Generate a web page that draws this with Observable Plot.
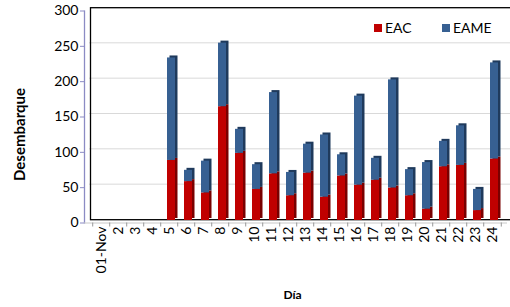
<!DOCTYPE html>
<html>
<head>
<meta charset="utf-8">
<script src="https://cdn.jsdelivr.net/npm/d3@7"></script>
<script src="https://cdn.jsdelivr.net/npm/@observablehq/plot@0.6"></script>
<style>
  html, body { margin: 0; padding: 0; background: #fff; }
  #wrap { position: relative; width: 510px; height: 307px; font-family: Lato, "Open Sans", sans-serif; }
  #legend .item { position: absolute; top: 20px; display: flex; align-items: center; font-size: 14px; color: #000; line-height: 16px; }
  #legend .sw { display: inline-block; width: 8px; height: 8px; margin-right: 3px; }
</style>
</head>
<body>
<div id="wrap"><div id="legend"></div></div>
<script>
const dias = ["01-Nov","2","3","4","5","6","7","8","9","10","11","12","13","14","15","16","17","18","19","20","21","22","23","24"];
const eac  = [0,0,0,0,85,55,39,161,95,44,66,35,67,33,63,50,57,46,35,16,76,78,14,87];
const eame = [0,0,0,0,145,16,45,90,34,35,115,33,41,88,30,126,31,153,37,66,36,56,30,136];
const series = ["EAC","EAME"];
const colors = ["#C00000","#376092"];
const sideColors = ["#7a0000","#1f3a5c"];
const yTicks = [0,50,100,150,200,250,300];
const gridTicks = [50,100,150,200,250];

const data = [];
dias.forEach((d,i) => {
  data.push({dia: d, serie: "EAC", valor: eac[i]});
  data.push({dia: d, serie: "EAME", valor: eame[i]});
});

const W = 510, H = 307, mL = 85, mR = 3;
const step = (W - mL - mR) / dias.length;

const chart = Plot.plot({
  width: W,
  height: H,
  marginLeft: mL,
  marginRight: mR,
  marginTop: 8,
  marginBottom: 87,
  style: {fontFamily: "Lato, 'Open Sans', sans-serif", fontSize: "14px", background: "#fff", color: "#000", overflow: "visible"},
  x: {type: "band", domain: dias, paddingInner: 0.55, paddingOuter: 0.275, label: null},
  y: {domain: [0, 300], label: null},
  marks: [
    Plot.ruleY(gridTicks, {stroke: "#d9d9d9", strokeWidth: 1, dx: 4, dy: -1}),
    Plot.frame({stroke: "#000", strokeWidth: 1.3, dx: 5, dy: -0.8}),
    Plot.frame({anchor: "left", stroke: "#8b8bc4", strokeWidth: 1.3, dx: -1, dy: 2.5}),
    Plot.frame({anchor: "bottom", stroke: "#c8c8c8", strokeWidth: 1, dx: -1, dy: 2.5}),
    Plot.barY(data, Plot.stackY({x: "dia", y: "valor", z: "serie", order: series,
      fill: d => sideColors[series.indexOf(d.serie)], dx: 4.5, dy: -2})),
    Plot.barY(data, Plot.stackY({x: "dia", y: "valor", z: "serie", order: series,
      fill: d => colors[series.indexOf(d.serie)], dx: 2})),
    Plot.axisY({ticks: yTicks, tickSize: 4, tickPadding: 2, stroke: "#8b8bc4", dy: 2.5, dx: -1, fontSize: 14, label: null}),
    Plot.axisX({tickSize: 4, tickFormat: () => "", stroke: "#999", dx: -step / 2, dy: 2.5, label: null}),
    Plot.ruleX([dias[dias.length - 1]], {x: d => d, y1: -3.5, y2: -9.3, stroke: "#999", dx: step / 2}),
    Plot.axisX({tickSize: 0, tickRotate: -90, tickPadding: 6, fontSize: 14, label: null}),
    Plot.text(["Desembarque"], {text: d => d, frameAnchor: "left", textAnchor: "middle", rotate: -90, dx: -65, dy: 20, fontWeight: "bold", fontSize: 15}),
    Plot.text(["Día"], {text: d => d, frameAnchor: "bottom", dy: 78, dx: -4, fontWeight: "bold", fontSize: 12})
  ]
});

const wrap = document.getElementById("wrap");
wrap.insertBefore(chart, wrap.firstChild);

const legend = document.getElementById("legend");
const legendLeft = [374, 442];
series.forEach((s, i) => {
  const item = document.createElement("div");
  item.className = "item";
  item.style.left = legendLeft[i] + "px";
  const sw = document.createElement("span");
  sw.className = "sw";
  sw.style.background = colors[i];
  item.appendChild(sw);
  item.appendChild(document.createTextNode(s));
  legend.appendChild(item);
});
</script>
</body>
</html>
